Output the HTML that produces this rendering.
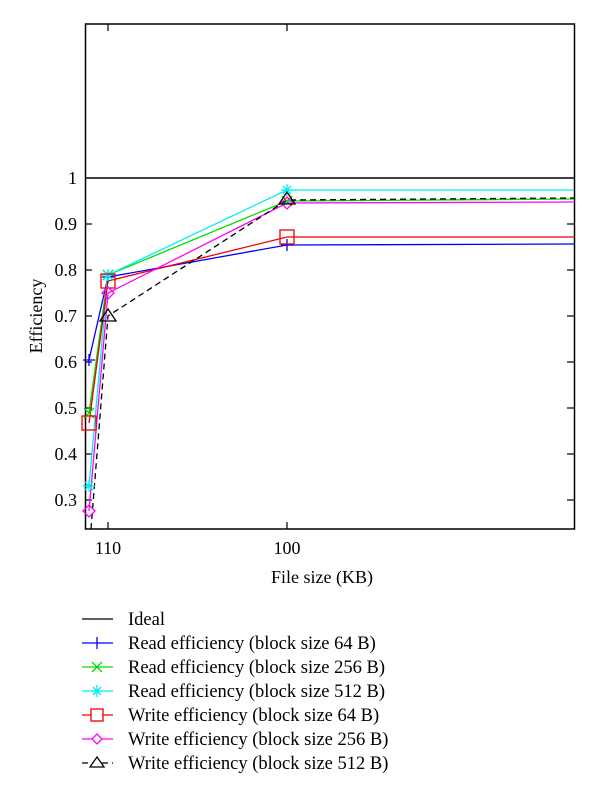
<!DOCTYPE html>
<html><head><meta charset="utf-8"><style>
html,body{margin:0;padding:0;background:#fff;}
svg, svg text{font-family:"Liberation Serif","DejaVu Serif",serif;}
</style></head><body>
<svg width="600" height="802" viewBox="0 0 600 802" xmlns="http://www.w3.org/2000/svg" font-family="Liberation Serif, serif">
<rect width="600" height="802" fill="#fff"/>
<g stroke="#000" stroke-width="1.5" fill="none">
<rect x="85.5" y="24" width="489" height="505"/>
<line x1="85" y1="178" x2="574" y2="178"/>
</g>
<g stroke="#000" stroke-width="1.2">
<line x1="108" y1="529" x2="108" y2="522"/><line x1="287" y1="529" x2="287" y2="522"/>
<line x1="108" y1="24" x2="108" y2="31"/><line x1="287" y1="24" x2="287" y2="31"/>
<line x1="85" y1="224" x2="92" y2="224"/><line x1="85" y1="270" x2="92" y2="270"/>
<line x1="85" y1="316" x2="92" y2="316"/><line x1="85" y1="362" x2="92" y2="362"/>
<line x1="85" y1="408" x2="92" y2="408"/><line x1="85" y1="454" x2="92" y2="454"/>
<line x1="85" y1="500" x2="92" y2="500"/>
<line x1="574" y1="224" x2="567" y2="224"/><line x1="574" y1="270" x2="567" y2="270"/>
<line x1="574" y1="316" x2="567" y2="316"/><line x1="574" y1="362" x2="567" y2="362"/>
<line x1="574" y1="408" x2="567" y2="408"/><line x1="574" y1="454" x2="567" y2="454"/>
<line x1="574" y1="500" x2="567" y2="500"/>
</g>
<g font-size="18" text-anchor="end" fill="#000">
<text x="77" y="184">1</text>
<text x="77" y="230">0.9</text>
<text x="77" y="276">0.8</text>
<text x="77" y="322">0.7</text>
<text x="77" y="368">0.6</text>
<text x="77" y="414">0.5</text>
<text x="77" y="460">0.4</text>
<text x="77" y="506">0.3</text>
</g>
<g font-size="18" text-anchor="middle">
<text x="108" y="554">110</text>
<text x="287" y="554">100</text>
<text x="322" y="583">File size (KB)</text>
<text transform="translate(42,316) rotate(-90)">Efficiency</text>
</g>
<polyline points="89,360 108,277 287,245 574,244" fill="none" stroke="#0000ff" stroke-width="1.3"/>
<polyline points="89,413 108,275 287,201 574,199" fill="none" stroke="#00dd00" stroke-width="1.3"/>
<polyline points="89,486 108,275 287,190 574,190" fill="none" stroke="#00eeee" stroke-width="1.3"/>
<polyline points="89,423 108,281 287,237 574,237" fill="none" stroke="#ee0000" stroke-width="1.3"/>
<polyline points="89,511 108,293 287,203 574,202" fill="none" stroke="#ff00ff" stroke-width="1.3"/>
<polyline points="91,529 108,316 287,200 574,198" fill="none" stroke="#000" stroke-width="1.3" stroke-dasharray="6,4"/>
<g stroke="#0000ff" stroke-width="1.3"><path d="M83,360h12M89,354v12M102,277h12M108,271v12M281,245h12M287,239v12"/></g>
<g stroke="#00dd00" stroke-width="1.3"><path d="M84,408l10,10M94,408l-10,10M103,270l10,10M113,270l-10,10M282,196l10,10M292,196l-10,10"/></g>
<g stroke="#00eeee" stroke-width="1.3"><path d="M83,486h12M89,480v12M85,482l8,8M93,482l-8,8M102,275h12M108,269v12M104,271l8,8M112,271l-8,8M281,190h12M287,184v12M283,186l8,8M291,186l-8,8"/></g>
<g stroke="#ee0000" stroke-width="1.3" fill="none"><rect x="82" y="416" width="14" height="14"/><rect x="101" y="274" width="14" height="14"/><rect x="280" y="230" width="14" height="14"/></g>
<g stroke="#ff00ff" stroke-width="1.3" fill="none"><path d="M89,505l6,6l-6,6l-6,-6z"/><path d="M108,287l6,6l-6,6l-6,-6z"/><path d="M287,197l6,6l-6,6l-6,-6z"/></g>
<g stroke="#000" stroke-width="1.3" fill="none"><path d="M108,309l8,12h-16z"/><path d="M287,192l8,12h-16z"/></g>
<g font-size="18.5">
<line x1="82" y1="619" x2="113" y2="619" stroke="#000" stroke-width="1.3"/>
<text x="128" y="625">Ideal</text>
<line x1="82" y1="643" x2="113" y2="643" stroke="#0000ff" stroke-width="1.3"/>
<path d="M97,637v12" stroke="#0000ff" stroke-width="1.3"/>
<text x="128" y="649">Read efficiency (block size 64 B)</text>
<line x1="82" y1="667" x2="113" y2="667" stroke="#00dd00" stroke-width="1.3"/>
<path d="M92,662l10,10M102,662l-10,10" stroke="#00dd00" stroke-width="1.3"/>
<text x="128" y="673">Read efficiency (block size 256 B)</text>
<line x1="82" y1="691" x2="113" y2="691" stroke="#00eeee" stroke-width="1.3"/>
<path d="M97,685v12M93,687l8,8M101,687l-8,8" stroke="#00eeee" stroke-width="1.3"/>
<text x="128" y="697">Read efficiency (block size 512 B)</text>
<line x1="82" y1="715" x2="113" y2="715" stroke="#ee0000" stroke-width="1.3"/>
<rect x="91" y="709" width="12" height="12" fill="#fff" stroke="#ee0000" stroke-width="1.3"/>
<text x="128" y="721">Write efficiency (block size 64 B)</text>
<line x1="82" y1="739" x2="113" y2="739" stroke="#ff00ff" stroke-width="1.3"/>
<path d="M97,734l5,5l-5,5l-5,-5z" fill="#fff" stroke="#ff00ff" stroke-width="1.3"/>
<text x="128" y="745">Write efficiency (block size 256 B)</text>
<line x1="82" y1="763" x2="113" y2="763" stroke="#000" stroke-width="1.3" stroke-dasharray="6,4"/>
<path d="M97,757l7,10h-14z" fill="#fff" stroke="#000" stroke-width="1.3"/>
<text x="128" y="769">Write efficiency (block size 512 B)</text>
</g>
</svg>
</body></html>
